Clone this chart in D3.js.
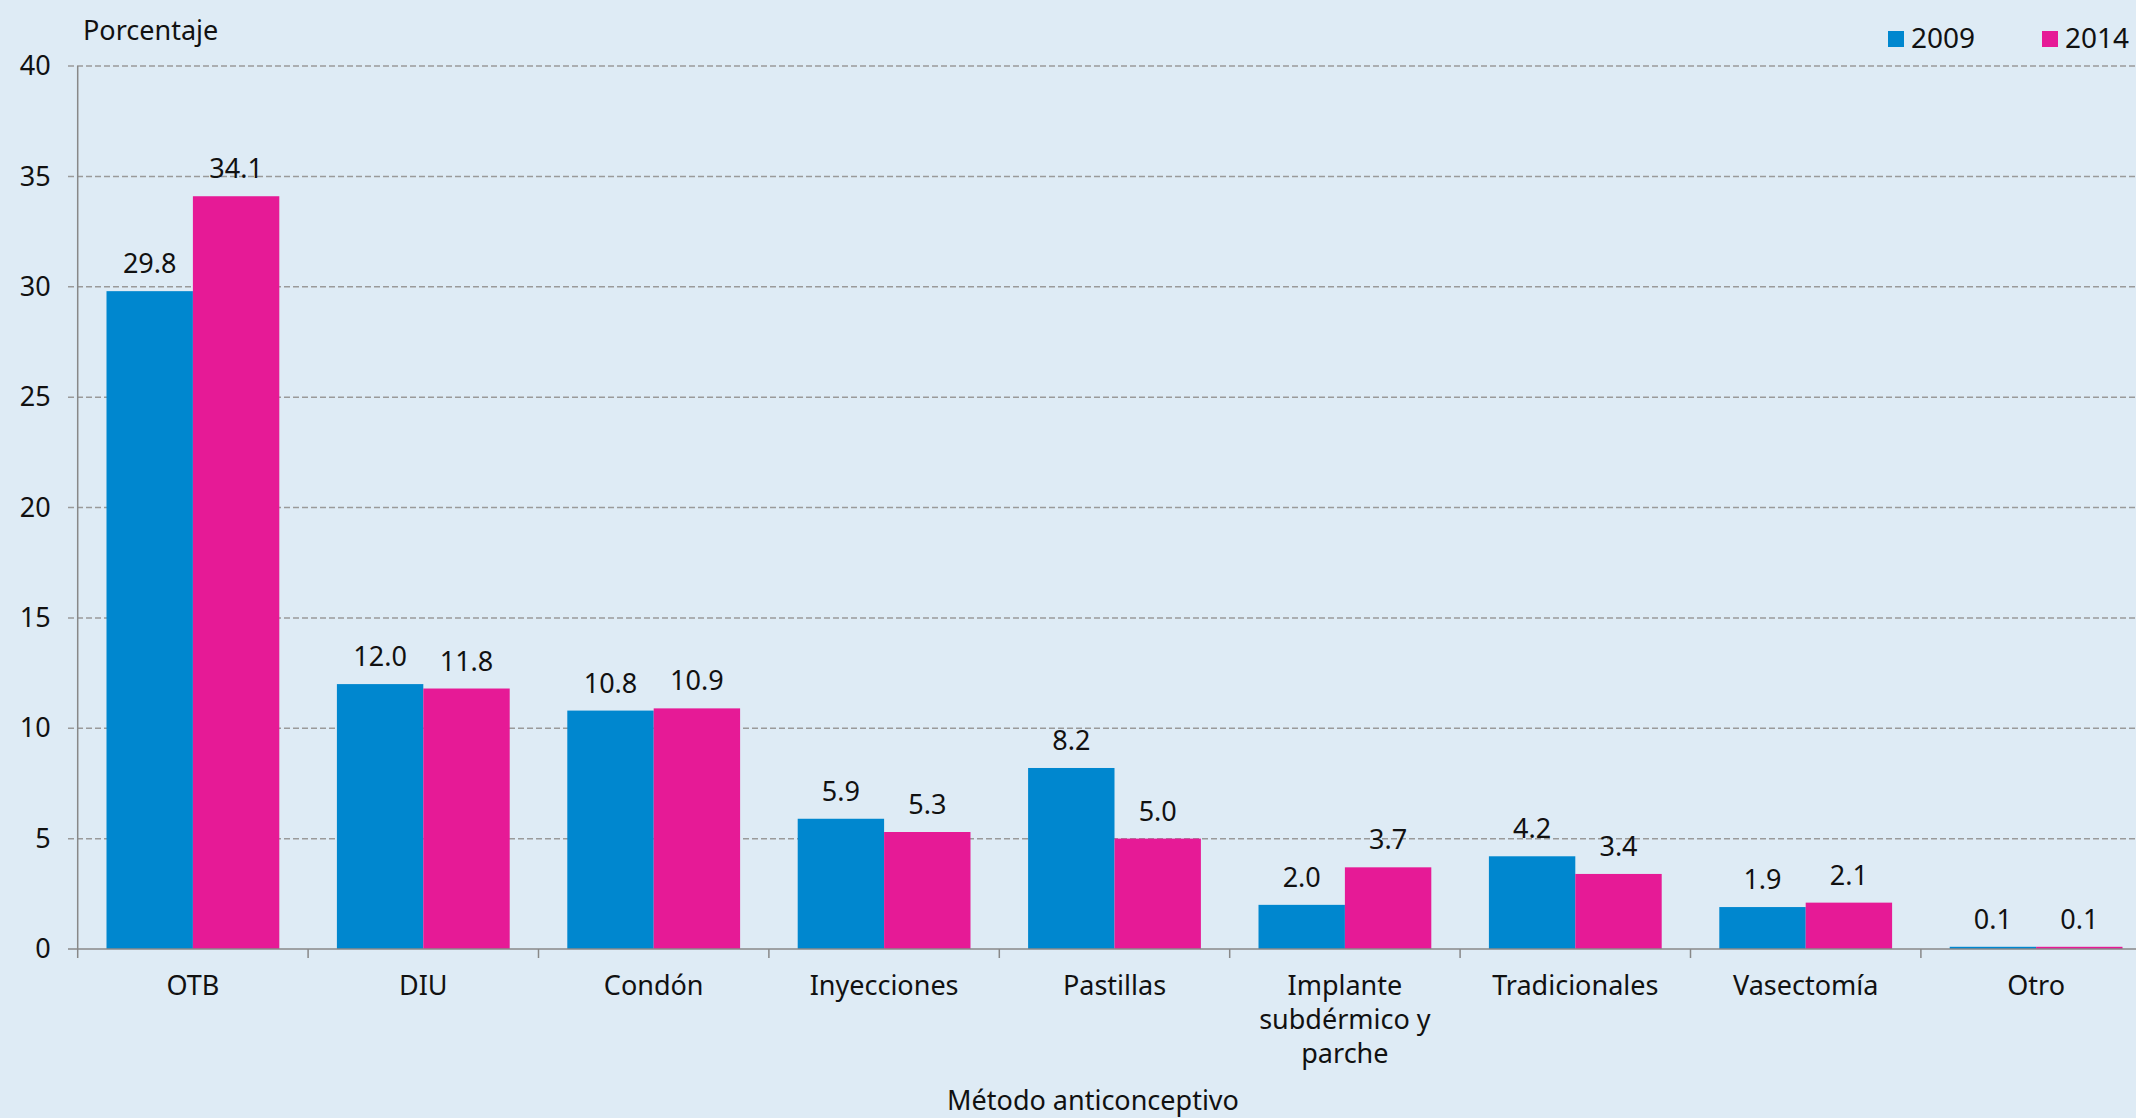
<!DOCTYPE html>
<html>
<head>
<meta charset="utf-8">
<script src="https://cdn.jsdelivr.net/npm/d3@7"></script>
<style>
  html, body { margin: 0; padding: 0; background: #deebf5; overflow: hidden; }
  svg { display: block; }
  text { font-family: "Noto Sans", "Open Sans", sans-serif; fill: #111; }
</style>
</head>
<body>
<svg id="chart" width="2136" height="1118"></svg>
<script>
const categories = ["OTB", "DIU", "Condón", "Inyecciones", "Pastillas", "Implante subdérmico y parche", "Tradicionales", "Vasectomía", "Otro"];
const categoryLines = [["OTB"], ["DIU"], ["Condón"], ["Inyecciones"], ["Pastillas"], ["Implante", "subdérmico y", "parche"], ["Tradicionales"], ["Vasectomía"], ["Otro"]];
const seriesNames = ["2009", "2014"];
const values2009 = [29.8, 12.0, 10.8, 5.9, 8.2, 2.0, 4.2, 1.9, 0.1];
const values2014 = [34.1, 11.8, 10.9, 5.3, 5.0, 3.7, 3.4, 2.1, 0.1];
const yTicks = [0, 5, 10, 15, 20, 25, 30, 35, 40];
const yTitle = "Porcentaje";
const xTitle = "Método anticonceptivo";
const colors = ["#0087cf", "#e61a96"];

(function () {
const W = 2136, H = 1118;
const FS = 27;
const plotLeft = 77.7, step = 230.4;
const plotRight = plotLeft + step * categories.length;
const plotTop = 66, plotBottom = 949;
const svg = d3.select("#chart");

svg.append("rect").attr("width", W).attr("height", H).attr("fill", "#deebf5");

const x = d3.scaleBand().domain(categories).range([plotLeft, plotRight]).paddingInner(0.25).paddingOuter(0.125);
const xs = d3.scaleBand().domain(seriesNames).range([0, x.bandwidth()]);
const y = d3.scaleLinear().domain([0, 40]).range([plotBottom, plotTop]);

// gridlines
svg.append("g").selectAll("line").data(yTicks.filter(d => d > 0)).join("line")
  .attr("x1", 68).attr("x2", W)
  .attr("y1", d => y(d)).attr("y2", d => y(d))
  .attr("stroke", "#9a9a9a").attr("stroke-width", 1.5).attr("stroke-dasharray", "6,3");

// bars
const data = categories.map((c, i) => ({ c, vals: [values2009[i], values2014[i]] }));
const groups = svg.append("g").selectAll("g").data(data).join("g")
  .attr("transform", d => `translate(${x(d.c)},0)`);
groups.selectAll("rect").data(d => d.vals.map((v, j) => ({ v, s: seriesNames[j], j }))).join("rect")
  .attr("x", d => xs(d.s)).attr("width", xs.bandwidth())
  .attr("y", d => y(d.v)).attr("height", d => y(0) - y(d.v))
  .attr("fill", d => colors[d.j]);
groups.selectAll("text").data(d => d.vals.map((v, j) => ({ v, s: seriesNames[j], j }))).join("text")
  .attr("x", d => xs(d.s) + xs.bandwidth() / 2).attr("y", d => y(d.v) - 18)
  .attr("text-anchor", "middle").attr("font-size", FS)
  .text(d => d.v.toFixed(1));

// y axis
const yAxis = svg.append("g").attr("transform", `translate(${plotLeft},0)`)
  .call(d3.axisLeft(y).tickValues(yTicks).tickSize(0).tickPadding(27).tickFormat(d3.format("d")));
yAxis.select(".domain").remove();
yAxis.selectAll("text").attr("font-size", FS).style("font-family", '"Noto Sans", sans-serif').attr("fill", "#111");
svg.append("line").attr("x1", plotLeft).attr("x2", plotLeft).attr("y1", plotTop).attr("y2", plotBottom)
  .attr("stroke", "#888").attr("stroke-width", 1.5);

// x axis
svg.append("line").attr("x1", 68).attr("x2", W).attr("y1", plotBottom).attr("y2", plotBottom)
  .attr("stroke", "#888").attr("stroke-width", 1.5);
const boundaries = d3.range(categories.length + 1).map(i => plotLeft + i * x.step());
svg.append("g").selectAll("line").data(boundaries).join("line")
  .attr("x1", d => d).attr("x2", d => d).attr("y1", plotBottom).attr("y2", plotBottom + 9)
  .attr("stroke", "#888").attr("stroke-width", 1.5);

const xl = svg.append("g").selectAll("text").data(categories).join("text")
  .attr("x", d => x(d) + x.bandwidth() / 2).attr("y", 995)
  .attr("text-anchor", "middle").attr("font-size", FS);
xl.each(function (d, i) {
  d3.select(this).selectAll("tspan").data(categoryLines[i]).join("tspan")
    .attr("x", x(d) + x.bandwidth() / 2).attr("dy", (t, k) => k === 0 ? 0 : 34).text(t => t);
});

// titles
svg.append("text").attr("x", 83).attr("y", 40).attr("font-size", FS).text(yTitle);
svg.append("text").attr("x", 1093).attr("y", 1110).attr("text-anchor", "middle").attr("font-size", FS).text(xTitle);

// legend
const legendX = [1888, 2042];
const lg = svg.append("g").selectAll("g").data(seriesNames).join("g")
  .attr("transform", (d, i) => `translate(${legendX[i]},31)`);
lg.append("rect").attr("width", 16).attr("height", 16).attr("fill", (d, i) => colors[i]);
lg.append("text").attr("x", 23).attr("y", 16.5).attr("font-size", 28).text(d => d);
})();
</script>
</body>
</html>
